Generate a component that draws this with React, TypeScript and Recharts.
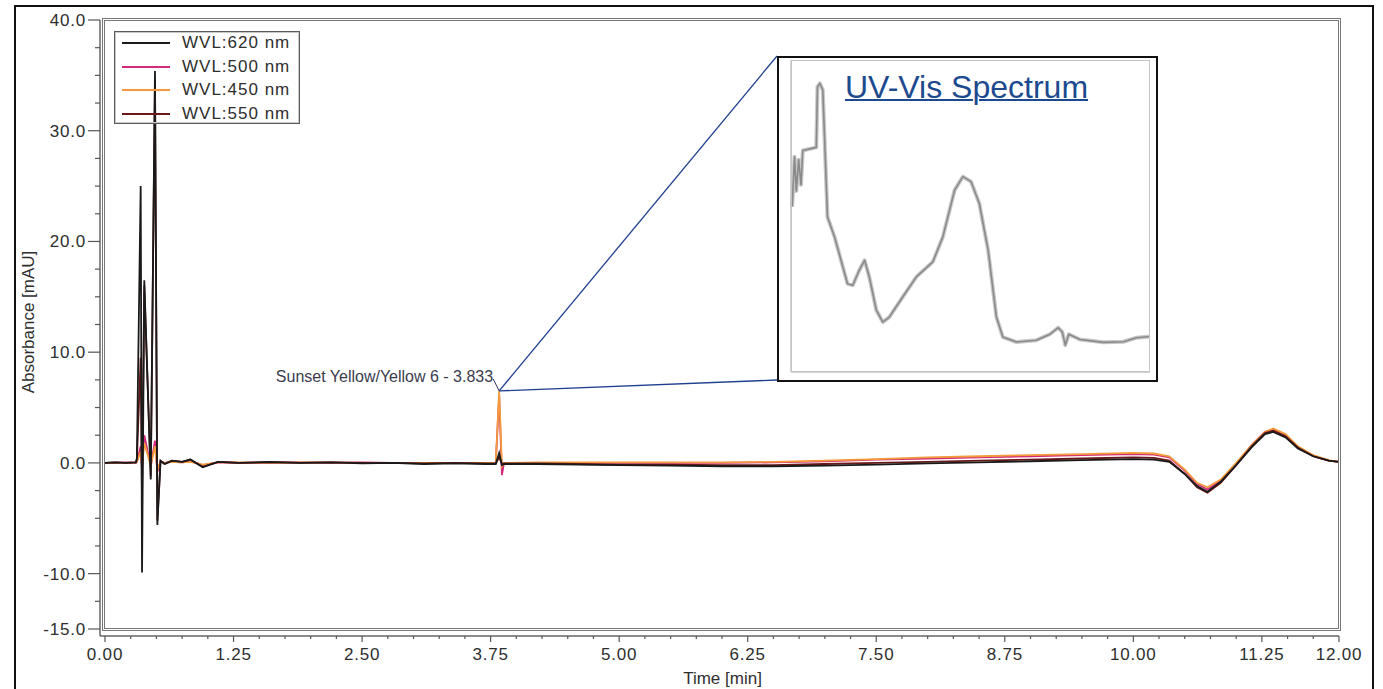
import React from 'react';
import { LineChart, Line, XAxis, YAxis, ReferenceLine, ReferenceDot } from 'recharts';

const FONT = '"Liberation Sans", Arial, Helvetica, sans-serif';

// retention time, min
const TIME = [
  0, 0.1, 0.2, 0.3, 0.31, 0.347, 0.36, 0.382, 0.445, 0.486,
  0.509, 0.54, 0.58, 0.65, 0.75, 0.83, 0.95, 1.1, 1.3, 1.6,
  1.9, 2.2, 2.5, 2.8, 3.1, 3.4, 3.7, 3.8, 3.833, 3.86,
  3.88, 3.95, 4.2, 4.6, 5.0, 5.5, 6.0, 6.5, 7.0, 7.5,
  8.0, 8.5, 9.0, 9.5, 10.0, 10.2, 10.35, 10.5, 10.62, 10.72,
  10.85, 11.0, 11.15, 11.28, 11.36, 11.48, 11.6, 11.75, 11.9, 12.0,
];

// absorbance per detector channel, mAU
const WVL_620 = [
  0, 0.05, 0, 0.05, 0.4, 25.0, -9.9, 16.5, -1.5, 35.4,
  -5.6, 0.2, -0.1, 0.2, 0.1, 0.3, -0.4, 0.1, 0, 0.1,
  0, 0.05, -0.05, 0, -0.1, -0.05, -0.1, -0.1, 0.9, -0.2,
  -0.1, -0.1, -0.1, -0.15, -0.2, -0.25, -0.3, -0.3, -0.25, -0.15,
  -0.05, 0.05, 0.15, 0.25, 0.35, 0.3, 0.1, -1.0, -2.1, -2.6,
  -1.7, -0.2, 1.4, 2.6, 2.8, 2.3, 1.3, 0.6, 0.2, 0.1,
];
const WVL_500 = [
  0, 0, 0.05, 0, 0.1, 1.5, -0.6, 2.5, -0.3, 2.0,
  -0.8, 0.1, 0, 0.1, 0.05, 0.15, -0.2, 0.05, 0, 0.05,
  0.05, 0, 0.05, 0, 0, 0, 0, 0, 6.1, -1.1,
  0, 0, 0, 0, 0, 0, 0, 0.05, 0.15, 0.3,
  0.4, 0.5, 0.6, 0.7, 0.8, 0.75, 0.5, -0.7, -1.9, -2.4,
  -1.6, -0.1, 1.6, 2.8, 3.0, 2.5, 1.4, 0.6, 0.2, 0.1,
];
const WVL_450 = [
  0, 0, 0, 0.05, 0.1, 1.0, -0.3, 1.8, -0.2, 1.5,
  -0.6, 0.1, 0, 0.1, 0.05, 0.1, -0.15, 0.05, 0.05, 0,
  0.05, 0.05, 0, 0, 0, 0, 0, 0, 6.5, -0.3,
  0, 0, 0.05, 0.05, 0.05, 0.05, 0.05, 0.1, 0.2, 0.35,
  0.5, 0.6, 0.7, 0.8, 0.9, 0.85, 0.6, -0.6, -1.8, -2.2,
  -1.5, 0, 1.6, 2.8, 3.1, 2.6, 1.5, 0.7, 0.25, 0.1,
];
const WVL_550 = [
  0, 0.05, 0, 0.05, 0.3, 9.5, -3.0, 16.0, -1.2, 34.6,
  -5.2, 0.2, -0.1, 0.2, 0.1, 0.3, -0.35, 0.1, 0, 0.05,
  0, 0.05, 0, 0, -0.05, 0, -0.05, -0.05, 0.5, -0.1,
  -0.05, -0.05, -0.05, -0.1, -0.15, -0.15, -0.2, -0.2, -0.1, 0,
  0.1, 0.2, 0.3, 0.4, 0.5, 0.45, 0.2, -1.0, -2.2, -2.7,
  -1.8, -0.2, 1.5, 2.7, 2.9, 2.4, 1.4, 0.6, 0.2, 0.1,
];

const TRACES = [
  { key: 'wvl620', name: 'WVL:620 nm', color: '#1a1a1a', values: WVL_620 },
  { key: 'wvl500', name: 'WVL:500 nm', color: '#d42a7c', values: WVL_500 },
  { key: 'wvl450', name: 'WVL:450 nm', color: '#f29a3c', values: WVL_450 },
  { key: 'wvl550', name: 'WVL:550 nm', color: '#6a1818', values: WVL_550 },
];
// bottom to top
const DRAW_ORDER = ['wvl500', 'wvl450', 'wvl550', 'wvl620'];

const PEAK_NAME = 'Sunset Yellow/Yellow 6';
const PEAK_RT = 3.833;

const Y_TICKS = [
  -15, -12.5, -10, -7.5, -5, -2.5, 0, 2.5, 5, 7.5, 10, 12.5,
  15, 17.5, 20, 22.5, 25, 27.5, 30, 32.5, 35, 37.5, 40,
];
const Y_LABELED = [-15, -10, 0, 10, 20, 30, 40];
const X_TICKS = Array.from({ length: 49 }, (_, i) => i * 0.25);
const X_LABELED = [0, 1.25, 2.5, 3.75, 5, 6.25, 7.5, 8.75, 10, 11.25, 12];

// UV-Vis spectrum of the peak (inset)
const SPEC_NM = [
  192, 196, 199, 203, 207, 210, 233, 235, 239, 244, 252, 264, 286, 295, 306,
  315, 323, 335, 346, 357, 380, 403, 431, 448, 468, 482, 496, 510, 525, 539,
  550, 573, 607, 630, 644, 651, 656, 662, 681, 721, 755, 777, 800,
];
const SPEC_ABS = [
  53, 69, 58, 68, 60, 71, 72, 91.4, 92.5, 90.4, 49.7, 43.3, 28.3, 27.8, 32.6,
  35.8, 30.5, 19.8, 16.0, 17.6, 24.1, 30.5, 35.3, 43.3, 58.3, 62.6, 61.0, 54.0, 39.0, 17.6,
  11.2, 9.6, 10.2, 12.1, 14.2, 12.8, 8.6, 12.1, 10.4, 9.5, 9.7, 11.0, 11.4,
];
const SPEC_X_TICKS = [200, 250, 300, 350, 400, 450, 500, 550, 600, 650, 700, 750, 800];
const SPEC_Y_TICKS = Array.from({ length: 26 }, (_, i) => i * 4);

// layout
const W = 1383;
const H = 689;
const X_AT_0 = 105;
const X_AT_12 = 1339;
const Y_AT_40 = 20;
const Y_AT_M15 = 629;
const INSET = { left: 777, top: 56, width: 381, height: 326 };

const pxToTime = (px: number) => ((px - X_AT_0) / (X_AT_12 - X_AT_0)) * 12;
const pxToAbs = (py: number) => 40 - ((py - Y_AT_40) / (Y_AT_M15 - Y_AT_40)) * 55;

const chartData = TIME.map((t, i) => {
  const row: Record<string, number> = { t };
  TRACES.forEach((s) => {
    row[s.key] = s.values[i];
  });
  return row;
});

const peakIdx = TIME.indexOf(PEAK_RT);
const peakTop = Math.max(...TRACES.map((s) => s.values[peakIdx]));

const spectrumData = SPEC_NM.map((nm, i) => ({ nm, abs: SPEC_ABS[i] }));

const XTick = (props: any) => {
  const { x, y, payload } = props;
  const v = payload.value;
  const major = X_LABELED.some((m) => Math.abs(m - v) < 1e-6);
  return (
    <g>
      <line x1={x} x2={x} y1={y} y2={y + (major ? 6 : 3)} stroke="#555" strokeWidth={1.2} />
      {major && (
        <text
          x={x}
          y={y + 24}
          textAnchor="middle"
          fontFamily={FONT}
          fontSize={17}
          letterSpacing={0.8}
          fill="#2e2e2e"
        >
          {v.toFixed(2)}
        </text>
      )}
    </g>
  );
};

const YTick = (props: any) => {
  const { x, y, payload } = props;
  const v = payload.value;
  const major = Y_LABELED.includes(v);
  return (
    <g>
      <line x1={x - (major ? 12 : 5)} x2={x} y1={y} y2={y} stroke="#555" strokeWidth={1.2} />
      {major && (
        <text
          x={x - 14}
          y={y + 6}
          textAnchor="end"
          fontFamily={FONT}
          fontSize={17}
          letterSpacing={0.8}
          fill="#2e2e2e"
        >
          {v.toFixed(1)}
        </text>
      )}
    </g>
  );
};

const YTitle = (props: any) => {
  const vb = props.viewBox;
  const cx = vb.x + 28;
  const cy = vb.y + vb.height / 2 - 6;
  return (
    <text
      x={cx}
      y={cy}
      transform={`rotate(-90 ${cx} ${cy})`}
      textAnchor="middle"
      dominantBaseline="central"
      fontFamily={FONT}
      fontSize={17}
      fill="#2e2e2e"
    >
      Absorbance [mAU]
    </text>
  );
};

const XTitle = (props: any) => {
  const vb = props.viewBox;
  return (
    <text
      x={vb.x + vb.width / 2 + 3}
      y={vb.y + 48}
      textAnchor="middle"
      fontFamily={FONT}
      fontSize={17}
      fill="#2e2e2e"
    >
      Time [min]
    </text>
  );
};

const PeakTag = (props: any) => {
  const vb = props.viewBox;
  if (!vb) return null;
  const cx = vb.x + vb.width / 2;
  const cy = vb.y + vb.height / 2;
  return (
    <g>
      <line x1={cx} y1={cy} x2={cx - 6} y2={cy - 12} stroke="#33335a" strokeWidth={1} />
      <text x={cx - 6} y={cy - 9} textAnchor="end" fontFamily={FONT} fontSize={16} fill="#3b3b4e">
        {`${PEAK_NAME} - ${PEAK_RT.toFixed(3)}`}
      </text>
    </g>
  );
};

const TraceLegend = () => (
  <div
    style={{
      position: 'absolute',
      left: 114,
      top: 31,
      width: 186,
      height: 93,
      border: '1px solid #5a5a5a',
      boxShadow: 'inset 0 0 0 1px #c8c8c8',
      boxSizing: 'border-box',
      fontFamily: FONT,
      fontSize: 17,
      color: '#2e2e2e',
    }}
  >
    {TRACES.map((s, i) => {
      const cy = 11 + i * 23.7;
      return (
        <React.Fragment key={s.key}>
          <div style={{ position: 'absolute', left: 7, top: cy - 1, width: 48, height: 2, background: s.color }} />
          <div
            style={{
              position: 'absolute',
              left: 67,
              top: cy - 10,
              lineHeight: '20px',
              whiteSpace: 'nowrap',
              letterSpacing: 1,
            }}
          >
            {s.name}
          </div>
        </React.Fragment>
      );
    })}
  </div>
);

const SpectrumInset = () => (
  <div
    style={{
      position: 'absolute',
      left: INSET.left,
      top: INSET.top,
      width: INSET.width,
      height: INSET.height,
      border: '2px solid #111',
      boxSizing: 'border-box',
      background: '#fff',
    }}
  >
    <LineChart width={INSET.width - 4} height={INSET.height - 4} data={spectrumData} margin={{ top: 2, right: 6, bottom: 0, left: 0 }}>
      <XAxis
        type="number"
        dataKey="nm"
        domain={[190, 800]}
        ticks={SPEC_X_TICKS}
        interval={0}
        height={8}
        tick={false}
        tickSize={4}
        stroke="#a8a8a8"
      />
      <YAxis
        type="number"
        domain={[0, 100]}
        ticks={SPEC_Y_TICKS}
        interval={0}
        width={12}
        tick={false}
        tickSize={3}
        stroke="#a8a8a8"
      />
      <Line
        type="linear"
        dataKey="abs"
        stroke="#c8c8c8"
        strokeWidth={4}
        strokeLinejoin="round"
        dot={false}
        activeDot={false}
        isAnimationActive={false}
      />
      <Line
        type="linear"
        dataKey="abs"
        stroke="#8a8a8a"
        strokeWidth={1.6}
        strokeLinejoin="round"
        dot={false}
        activeDot={false}
        isAnimationActive={false}
      />
    </LineChart>
    <div
      style={{
        position: 'absolute',
        left: 12,
        top: 2,
        width: 359,
        height: 312,
        border: '1px solid #c4c4c4',
        boxSizing: 'border-box',
        pointerEvents: 'none',
      }}
    />
    <div
      style={{
        position: 'absolute',
        left: 66,
        top: 13,
        fontFamily: FONT,
        fontSize: 32,
        lineHeight: '32px',
        color: '#1d4a8f',
        textDecoration: 'underline',
        textDecorationThickness: 2,
        whiteSpace: 'nowrap',
      }}
    >
      UV-Vis Spectrum
    </div>
  </div>
);

export default function App() {
  return (
    <div style={{ position: 'absolute', left: 0, top: 0, width: W, height: H, background: '#fff', overflow: 'hidden' }}>
      <div
        style={{
          position: 'absolute',
          left: 14,
          top: 5,
          width: 1360,
          height: 720,
          border: '2px solid #111',
          boxSizing: 'border-box',
        }}
      />
      <div style={{ position: 'absolute', left: 0, top: 0 }}>
        <LineChart width={W} height={H} data={chartData} margin={{ top: Y_AT_40, right: W - X_AT_12, bottom: 0, left: 0 }}>
          <XAxis
            type="number"
            dataKey="t"
            domain={[0, 12]}
            ticks={X_TICKS}
            interval={0}
            height={53}
            padding={{ left: 5, right: 0 }}
            tickSize={0}
            tickMargin={0}
            tick={<XTick />}
            axisLine={{ stroke: '#666', strokeWidth: 1.5 }}
            label={<XTitle />}
          />
          <YAxis
            type="number"
            domain={[-15, 40]}
            ticks={Y_TICKS}
            interval={0}
            width={100}
            padding={{ top: 0, bottom: 7 }}
            tickSize={0}
            tickMargin={0}
            tick={<YTick />}
            axisLine={{ stroke: '#666', strokeWidth: 1.5 }}
            label={<YTitle />}
          />
          {DRAW_ORDER.map((k) => {
            const s = TRACES.find((tr) => tr.key === k)!;
            return (
              <Line
                key={s.key}
                type="linear"
                dataKey={s.key}
                name={s.name}
                stroke={s.color}
                strokeWidth={1.8}
                dot={false}
                activeDot={false}
                isAnimationActive={false}
              />
            );
          })}
          <ReferenceLine
            segment={[
              { x: PEAK_RT, y: peakTop },
              { x: pxToTime(INSET.left), y: pxToAbs(INSET.top) },
            ]}
            stroke="#1f3f8f"
            strokeWidth={1.3}
            ifOverflow="visible"
          />
          <ReferenceLine
            segment={[
              { x: PEAK_RT, y: peakTop },
              { x: pxToTime(INSET.left), y: pxToAbs(INSET.top + INSET.height - 2) },
            ]}
            stroke="#1f3f8f"
            strokeWidth={1.3}
            ifOverflow="visible"
          />
          <ReferenceDot
            x={PEAK_RT}
            y={peakTop}
            r={1}
            fill="none"
            stroke="none"
            ifOverflow="visible"
            label={<PeakTag />}
          />
        </LineChart>
      </div>
      <div
        style={{
          position: 'absolute',
          left: 102,
          top: 18,
          width: 1239,
          height: 613,
          border: '3px double #777',
          boxSizing: 'border-box',
          pointerEvents: 'none',
        }}
      />
      <TraceLegend />
      <SpectrumInset />
    </div>
  );
}
